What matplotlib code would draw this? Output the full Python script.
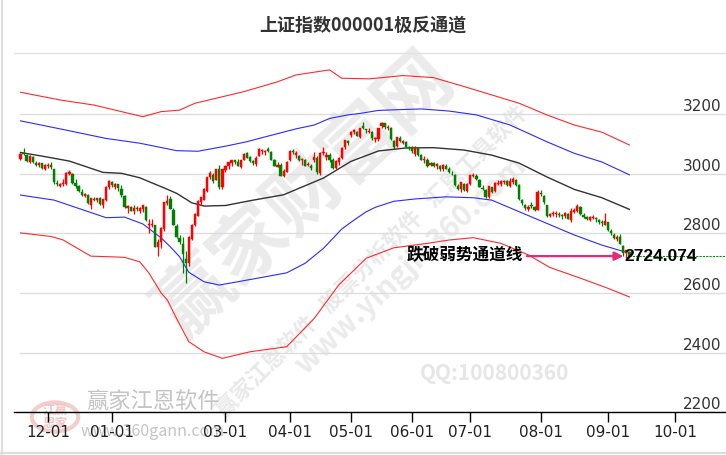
import matplotlib
matplotlib.use('Agg')
import matplotlib.pyplot as plt
from matplotlib import font_manager as fm
from matplotlib.patches import Circle
from matplotlib.lines import Line2D
import numpy as np

# ---------------- data ----------------
title = '上证指数000001极反通道'
first_index = -9          # trading-day index of the first candle (12-01 == 0)
tick_pos = [0, 21, 58, 79, 99, 119, 138, 161, 183, 205]
tick_labels = ['12-01', '01-01', '03-01', '04-01', '05-01', '06-01', '07-01', '08-01', '09-01', '10-01']
y_ticks = [2200, 2400, 2600, 2800, 3000, 3200]
current_price = 2724.074
note_text = '跌破弱势通道线'

opens = [3050, 3070, 3063, 3041, 3058, 3036, 3031, 3036, 3018,
         3027, 3030, 3017, 2968, 2960, 2965, 2965, 3000, 3001, 2968, 2961, 2938, 2926, 2930, 2895, 2915, 2912, 2918, 2897, 2912, 2955,
         2972, 2956, 2965, 2951, 2926, 2887, 2890, 2875, 2886, 2875, 2883, 2888, 2830, 2830, 2829, 2755, 2770, 2815, 2903, 2915, 2879, 2825,
         2786, 2765, 2715, 2700, 2780, 2830, 2860, 2905, 2912, 2944, 2988, 2997, 2980, 3018, 2957,
         3012, 3027, 3036, 3045, 3040, 3022, 3046, 3069, 3056, 3042, 3032, 3060, 3077, 3075, 3084, 3073, 3046, 3024, 3030, 2992, 3008,
         3045, 3077, 3063, 3060, 3046, 3048, 3030, 3028, 3045, 3055, 3002, 3070, 3058, 3065, 3046, 3020, 3040, 3053, 3090, 3110,
         3130, 3141, 3140, 3124, 3160, 3148, 3141, 3140, 3118, 3118, 3160, 3170, 3155, 3155, 3110, 3092, 3121, 3105, 3106, 3089,
         3089, 3068, 3088, 3063, 3046, 3045, 3030, 3035, 3025, 3025, 3016, 3028, 3018, 3000, 2995, 2960, 2948, 2966, 2943,
         2965, 2994, 2992, 2978, 2954, 2946, 2922, 2955, 2941, 2966, 2965, 2972, 2975, 2960, 2972, 2980, 2962, 2913, 2895, 2883, 2895, 2888, 2880,
         2935, 2925, 2895, 2858, 2866, 2866, 2866, 2860, 2858, 2865, 2845, 2872, 2875, 2890, 2862, 2855, 2846, 2852, 2852, 2845, 2838, 2830,
         2838, 2808, 2796, 2782, 2788, 2757, 2734, 2737]
highs = [3070, 3087, 3066, 3064, 3060, 3042, 3040, 3038, 3033,
         3036, 3040, 3018, 2980, 2970, 2984, 3005, 3013, 3004, 2982, 2963, 2948, 2935, 2933, 2920, 2923, 2920, 2921, 2916, 2960, 2978,
         2976, 2968, 2966, 2962, 2930, 2896, 2893, 2895, 2892, 2888, 2894, 2891, 2850, 2850, 2829, 2782, 2821, 2907, 2930, 2925, 2885, 2832,
         2796, 2787, 2742, 2790, 2833, 2868, 2913, 2924, 2953, 2989, 3009, 3003, 3016, 3030, 3015,
         3029, 3040, 3048, 3047, 3050, 3048, 3070, 3072, 3060, 3045, 3060, 3086, 3084, 3081, 3090, 3077, 3050, 3040, 3035, 3015, 3043,
         3079, 3084, 3078, 3064, 3055, 3050, 3040, 3032, 3073, 3060, 3072, 3090, 3073, 3070, 3053, 3047, 3058, 3090, 3114, 3113,
         3145, 3150, 3145, 3155, 3174, 3150, 3155, 3145, 3123, 3155, 3175, 3172, 3165, 3156, 3115, 3125, 3128, 3114, 3110, 3095,
         3093, 3093, 3090, 3067, 3060, 3052, 3040, 3040, 3036, 3030, 3032, 3033, 3024, 3010, 2998, 2965, 2974, 2970, 2970,
         2997, 3004, 2998, 2982, 2963, 2950, 2960, 2956, 2972, 2978, 2978, 2980, 2980, 2985, 2990, 2982, 2965, 2915, 2900, 2895, 2905, 2892, 2945,
         2947, 2928, 2896, 2870, 2875, 2875, 2872, 2866, 2872, 2870, 2885, 2885, 2900, 2892, 2868, 2860, 2858, 2862, 2856, 2848, 2845, 2870,
         2840, 2815, 2800, 2795, 2797, 2760, 2745, 2740]
lows = [3045, 3062, 3040, 3038, 3036, 3025, 3022, 3018, 3012,
        3019, 3018, 2967, 2958, 2955, 2958, 2963, 2995, 2966, 2953, 2940, 2926, 2922, 2900, 2882, 2910, 2905, 2896, 2887, 2910, 2951,
        2955, 2950, 2944, 2924, 2885, 2870, 2875, 2865, 2877, 2870, 2873, 2843, 2803, 2821, 2754, 2724, 2752, 2808, 2897, 2882, 2829, 2784,
        2766, 2666, 2635, 2690, 2778, 2826, 2858, 2897, 2911, 2938, 2982, 2970, 2978, 2950, 2950,
        3007, 3016, 3025, 3033, 3025, 3020, 3045, 3052, 3040, 3030, 3028, 3059, 3067, 3063, 3074, 3045, 3025, 3022, 2992, 2990, 3005,
        3044, 3068, 3055, 3043, 3030, 3025, 3025, 3012, 3040, 3000, 2995, 3065, 3045, 3040, 3018, 3015, 3030, 3050, 3085, 3096,
        3124, 3133, 3127, 3121, 3150, 3136, 3138, 3115, 3108, 3110, 3155, 3150, 3148, 3114, 3085, 3090, 3106, 3100, 3088, 3080,
        3070, 3060, 3060, 3045, 3035, 3023, 3025, 3024, 3015, 3010, 3010, 3015, 3004, 2995, 2960, 2945, 2940, 2943, 2939,
        2963, 2990, 2978, 2955, 2945, 2920, 2920, 2935, 2940, 2962, 2960, 2965, 2958, 2955, 2965, 2960, 2913, 2895, 2878, 2875, 2885, 2875, 2878,
        2925, 2900, 2855, 2855, 2860, 2855, 2855, 2850, 2852, 2848, 2840, 2870, 2872, 2862, 2852, 2845, 2843, 2850, 2840, 2832, 2825, 2828,
        2808, 2796, 2780, 2776, 2764, 2726, 2719, 2718]
closes = [3068, 3067, 3043, 3061, 3041, 3031, 3038, 3021, 3029,
          3031, 3022, 2972, 2966, 2966, 2969, 3003, 3008, 2968, 2958, 2942, 2930, 2932, 2902, 2918, 2914, 2918, 2898, 2915, 2955, 2975,
          2962, 2967, 2954, 2929, 2888, 2893, 2877, 2886, 2882, 2886, 2894, 2845, 2833, 2832, 2756, 2770, 2820, 2906, 2910, 2883, 2830, 2789,
          2770, 2730, 2702, 2789, 2830, 2866, 2910, 2922, 2951, 2988, 3004, 2977, 3015, 2957, 3015,
          3027, 3039, 3048, 3040, 3027, 3046, 3068, 3055, 3043, 3036, 3054, 3084, 3079, 3077, 3078, 3048, 3026, 3031, 2993, 3010, 3041,
          3077, 3074, 3069, 3047, 3048, 3027, 3034, 3019, 3057, 3007, 3071, 3074, 3065, 3045, 3021, 3044, 3052, 3088, 3113, 3105,
          3141, 3148, 3128, 3154, 3154, 3146, 3145, 3119, 3122, 3154, 3171, 3157, 3158, 3116, 3089, 3124, 3109, 3111, 3091, 3087,
          3078, 3091, 3065, 3048, 3051, 3028, 3037, 3028, 3033, 3015, 3030, 3018, 3005, 2998, 2963, 2950, 2973, 2946, 2967,
          2995, 2997, 2982, 2957, 2950, 2922, 2959, 2939, 2970, 2971, 2975, 2977, 2962, 2977, 2982, 2964, 2915, 2901, 2887, 2890, 2892, 2879, 2939,
          2932, 2905, 2860, 2867, 2869, 2870, 2862, 2858, 2868, 2850, 2877, 2879, 2893, 2866, 2856, 2848, 2855, 2855, 2848, 2837, 2835, 2842,
          2811, 2802, 2784, 2788, 2765, 2736, 2744, 2724.07]

# channel lines (trading-day index, value)
mid_idx = [-9, -1, 7, 18, 24, 30, 33, 37, 42, 47, 51, 58, 66, 77, 90, 99, 108, 117, 126, 136, 145, 154, 163, 172, 181, 190]
mid_val = [3072, 3058, 3043, 3005, 3002, 2987, 2974, 2957, 2935, 2903, 2892, 2894, 2910, 2930, 2986, 3042, 3077, 3087, 3088, 3080, 3063, 3036, 2990, 2948, 2920, 2881]

upb_idx = [-9, 4, 19, 30, 42, 49, 58, 65, 69, 81, 87, 92, 98, 102, 108, 113, 119, 122, 131, 140, 151, 163, 172, 181, 190]
upb_val = [3178, 3151, 3119, 3103, 3078, 3076, 3093, 3108, 3119, 3151, 3164, 3186, 3198, 3203, 3213, 3215, 3217, 3218, 3211, 3198, 3164, 3108, 3069, 3040, 2997]

lob_idx = [-9, 2, 19, 25, 31, 37, 40, 43, 46, 51, 56, 69, 78, 84, 90, 96, 100, 104, 107, 113, 120, 130, 139, 145, 154, 163, 172, 181, 189]
lob_val = [2929, 2912, 2853, 2855, 2832, 2785, 2755, 2722, 2670, 2638, 2627, 2651, 2668, 2700, 2750, 2815, 2845, 2873, 2888, 2908, 2916, 2923, 2920, 2912, 2873, 2834, 2795, 2761, 2737]

upr_idx = [-9, 4, 15, 24, 31, 37, 43, 48, 55, 64, 75, 81, 92, 96, 105, 116, 126, 136, 145, 154, 163, 172, 181, 190]
upr_val = [3274, 3248, 3231, 3209, 3192, 3209, 3214, 3237, 3254, 3276, 3309, 3332, 3349, 3321, 3319, 3330, 3323, 3293, 3265, 3237, 3198, 3164, 3140, 3097]

lor_idx = [-9, 1, 5, 14, 20, 25, 30, 33, 37, 39, 42, 46, 51, 57, 66, 78, 87, 95, 104, 113, 124, 131, 139, 148, 157, 164, 174, 183, 190]
lor_val = [2802, 2790, 2778, 2724, 2722, 2720, 2705, 2667, 2600, 2577, 2515, 2437, 2403, 2381, 2403, 2420, 2515, 2627, 2717, 2752, 2767, 2778, 2786, 2767, 2728, 2686, 2650, 2616, 2587]

# ---------------- fonts ----------------
_names = {f.name for f in fm.fontManager.ttflist}
NARROW = 'Liberation Sans Narrow' if 'Liberation Sans Narrow' in _names else 'DejaVu Sans'
CJK = ['Noto Sans CJK SC', 'DejaVu Sans']
plt.rcParams['font.family'] = CJK

W, H = 726, 455
fig = plt.figure(figsize=(W / 100, H / 100), dpi=100)
fig.patch.set_facecolor('white')

ax_left, ax_right, ax_top, ax_bottom = 14, 726, 53, 412.3
ax = fig.add_axes([ax_left / W, (H - ax_bottom) / H, (ax_right - ax_left) / W, (ax_bottom - ax_top) / H])

px_per_day = 3.06
x0_px = 48
ax.set_xlim((ax_left - x0_px) / px_per_day, (ax_right - x0_px) / px_per_day)
ax.set_ylim(2200, 2200 + (ax_bottom - ax_top) / 0.298)

# grid
for v in y_ticks:
    ax.axhline(v, xmin=6 / (ax_right - ax_left), xmax=1, color='#dddddd', lw=1.0, zorder=1)

# watermarks (figure coords)
def fx(p):
    return p / W

def fy(p):
    return 1 - p / H

wm = dict(transform=fig.transFigure, ha='center', va='center', zorder=0.5, family=CJK)
ax.text(fx(305), fy(195), '赢家财富网', rotation=43, fontsize=54, color='#ebebeb', weight='bold', **wm)
ax.text(fx(372), fy(262), '赢家江恩软件   股票分析软件   汇恩工具软件', rotation=45, fontsize=16, color='#e9e9e9', weight='bold', **wm)
ax.text(fx(410), fy(265), 'www.yingjia360.com', rotation=43, fontsize=21, color='#ebebeb', weight='bold', **wm)
ax.text(fx(495), fy(374), 'QQ:100800360', fontsize=15, color='#e6e6e6', weight='bold', **wm)
ax.text(fx(153), fy(402), '赢家江恩软件', fontsize=16, color='#c4c4c4', **wm)
ax.text(fx(153), fy(432), 'www.360gann.com', fontsize=11.5, color='#c4c4c4', **wm)
ax.add_line(Line2D([fx(90), fx(216)], [fy(419), fy(419)], transform=fig.transFigure, color='#f0d6d6', lw=2, zorder=0.5))
seal = Circle((fx(55), fy(417)), 0.032, transform=fig.transFigure, fill=False, edgecolor='#f3cccc', lw=3, zorder=0.5)
seal.set_clip_on(False)
ax.add_patch(seal)
ax.text(fx(55), fy(417), '江赢\n恩家', fontsize=9, color='#f1c4c4', weight='bold', linespacing=0.95, **wm)

# channel lines
ax.plot(upr_idx, upr_val, color='#ff2a2a', lw=0.8, zorder=2)
ax.plot(lor_idx, lor_val, color='#ff2a2a', lw=0.8, zorder=2)
ax.plot(upb_idx, upb_val, color='#2a2aff', lw=0.8, zorder=2)
ax.plot(lob_idx, lob_val, color='#2a2aff', lw=0.8, zorder=2)
ax.plot(mid_idx, mid_val, color='#333333', lw=1.0, zorder=2)

# candles
o = np.array(opens, float)
h = np.array(highs, float)
l = np.array(lows, float)
c = np.array(closes, float)
xs = np.arange(first_index, first_index + len(c))
up = c >= o
cols = np.where(up, '#ff0000', '#008000')
ax.vlines(xs, l, h, colors=cols, lw=0.9, zorder=3)
body_bottom = np.minimum(o, c)
body_h = np.maximum(np.abs(c - o), 3)
ax.bar(xs, body_h, bottom=body_bottom, width=0.72, color=cols, edgecolor=cols, lw=0.3, zorder=4)

# current price line, arrow and labels
last_x = xs[-1]
ax.hlines(current_price, last_x, ax.get_xlim()[1], colors='#009000', linestyles=(0, (2, 1)), lw=0.8, zorder=3)
ax.annotate('', xy=(last_x - 2.0, current_price), xytext=(last_x - 33.5, current_price),
            arrowprops=dict(arrowstyle='-|>', color='#e6287d', lw=1.6, mutation_scale=13, shrinkA=0, shrinkB=0),
            zorder=5)
ax.text(last_x - 34.8, current_price + 4, note_text, ha='right', va='center', fontsize=12, weight='bold',
        color='black', family=CJK, zorder=6)
ax.text(last_x - 1.6, current_price - 2, f'{current_price:.3f}', ha='left', va='center', fontsize=12.5,
        weight='bold', color='black', family=['Liberation Sans', 'DejaVu Sans'], zorder=6)

# axes styling
for s in ['left', 'right']:
    ax.spines[s].set_visible(False)
ax.spines['top'].set_color('#e2e2e2')
ax.spines['top'].set_linewidth(1.0)
ax.spines['bottom'].set_color('black')
ax.spines['bottom'].set_linewidth(1.0)

ax.set_xticks(tick_pos)
ax.set_xticklabels(tick_labels, family=NARROW, fontsize=11, color='#222222')
ax.tick_params(axis='x', direction='out', length=7, width=1, color='black', pad=2)

ax.yaxis.tick_right()
ax.set_yticks(y_ticks)
ax.set_yticklabels([str(v) for v in y_ticks], family=NARROW, fontsize=11, color='#333333')
ax.tick_params(axis='y', length=0, pad=-3)
for lbl in ax.get_yticklabels():
    lbl.set_horizontalalignment('right')
    lbl.set_verticalalignment('bottom')

# title
fig.text(0.5, fy(25), title, ha='center', va='center', fontsize=13, weight='bold', color='#333333', family=CJK)

# outer frame (left and bottom)
fig.add_artist(Line2D([fx(1.5), fx(1.5)], [0, 1], transform=fig.transFigure, color='#dddddd', lw=1.5))
fig.add_artist(Line2D([0, 1], [fy(453), fy(453)], transform=fig.transFigure, color='#dddddd', lw=1.5))

fig.savefig('out.png', dpi=100, facecolor='white')
